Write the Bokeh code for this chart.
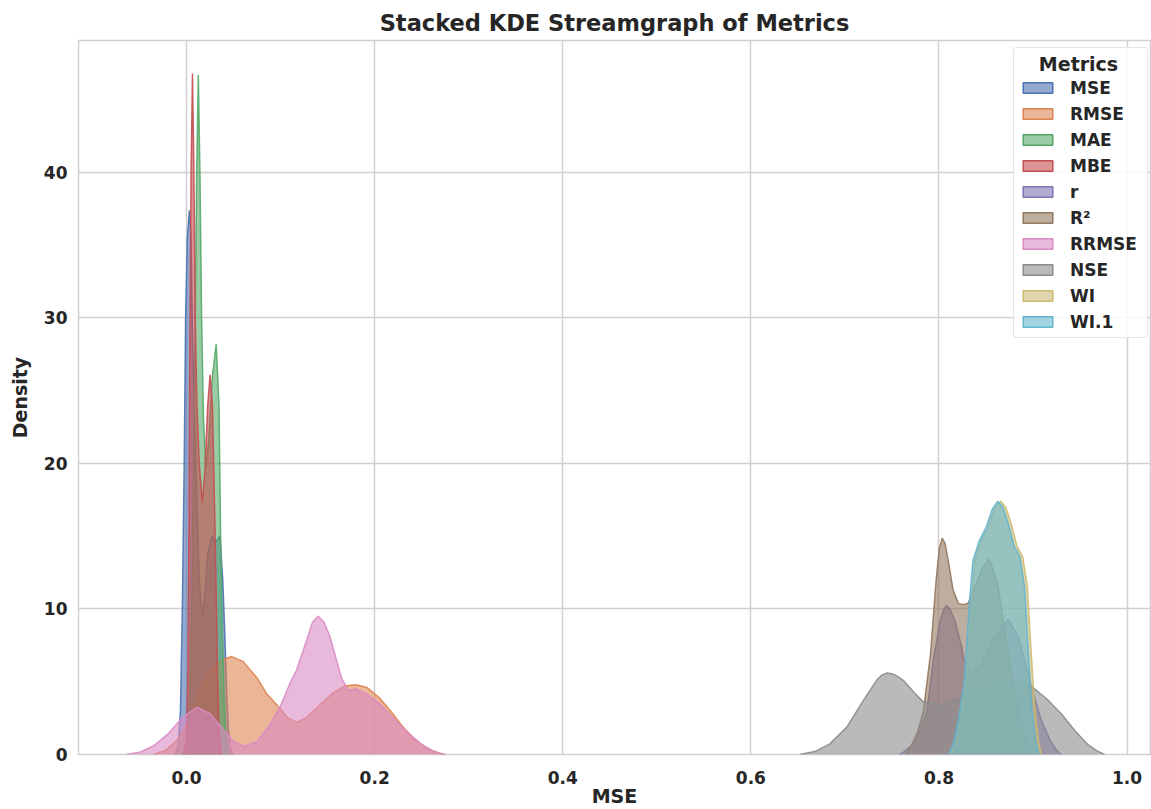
from bokeh.plotting import figure
from bokeh.models import Range1d, Legend, LegendItem, FixedTicker, ColumnDataSource
from bokeh.embed import file_html
from bokeh.resources import INLINE

# ---- data (x value, density) ----
metrics = ["MSE", "RMSE", "MAE", "MBE", "r", "R\u00b2", "RRMSE", "NSE", "WI", "WI.1"]
colors = ["#4C72B0", "#DD8452", "#55A868", "#C44E52", "#8172B3",
          "#937860", "#DA8BC3", "#8C8C8C", "#CCB974", "#64B5CD"]

mse_x = [-0.0125, -0.009, -0.0065, -0.0045, -0.0025, -0.001, 0.0008, 0.003, 0.0048, 0.006, 0.008, 0.0107,
         0.0135, 0.0167, 0.0195, 0.0225, 0.0267, 0.031, 0.0355, 0.0385, 0.0408, 0.0428, 0.0444, 0.0465, 0.049]
mse_y = [0, 0.5, 3, 10, 20, 30, 35.5, 37.4, 35.5, 30, 24, 18,
         12, 9.4, 11, 13.8, 15, 14.6, 15, 12, 8, 4, 1.8, 0.4, 0]

rmse_x = [-0.035, -0.022, -0.01, 0.0, 0.014, 0.025, 0.037, 0.048, 0.06, 0.0745, 0.085, 0.092, 0.099, 0.108,
          0.117, 0.127, 0.14, 0.155, 0.168, 0.18, 0.192, 0.205, 0.218, 0.23, 0.243, 0.256, 0.27, 0.275]
rmse_y = [0, 0.3, 1.0, 2.0, 4.4, 5.8, 6.5, 6.73, 6.4, 5.3, 4.2, 3.7, 3.2, 2.5,
          2.22, 2.5, 3.3, 4.2, 4.7, 4.8, 4.6, 3.9, 2.9, 1.9, 1.0, 0.4, 0.05, 0]

mae_x = [-0.004, 0.0, 0.003, 0.0055, 0.0075, 0.0092, 0.0108, 0.0125, 0.0142, 0.016, 0.018, 0.0205,
         0.0235, 0.0275, 0.0315, 0.0345, 0.0362, 0.0378, 0.0398, 0.0418, 0.0445]
mae_y = [0, 0.5, 3, 10, 20, 30, 40, 46.7, 40, 30, 23, 19.7,
         21.5, 26, 28.2, 24, 15, 9, 4, 1.2, 0]

mbe_x = [-0.003, 0.0, 0.0015, 0.0025, 0.0035, 0.0048, 0.0063, 0.0078, 0.0092, 0.011, 0.0135, 0.0167,
         0.0195, 0.0225, 0.025, 0.0275, 0.0298, 0.0315, 0.033, 0.0345, 0.037]
mbe_y = [0, 1, 6, 15, 28, 40, 46.8, 40, 30, 24, 20, 17.3,
         19.5, 24, 26.1, 24, 17, 11, 5, 1.5, 0]

r_x = [0.758, 0.7623, 0.7733, 0.787, 0.794, 0.8013, 0.8045, 0.8081, 0.812, 0.817, 0.8241, 0.8265, 0.835,
       0.845, 0.858, 0.8736, 0.885, 0.897, 0.908, 0.918, 0.925, 0.93]
r_y = [0, 0.16, 0.75, 2.8, 6.5, 9.2, 9.9, 10.24, 9.95, 9.2, 7.4, 6.5, 5.5,
       6.2, 8.0, 9.3, 8.0, 5.0, 2.5, 1.0, 0.3, 0]

r2_x = [0.765, 0.7697, 0.777, 0.7835, 0.791, 0.797, 0.8005, 0.8034, 0.8065, 0.8099, 0.815, 0.8208, 0.8265,
        0.831, 0.838, 0.846, 0.8535, 0.8625, 0.87, 0.878, 0.886, 0.893, 0.9]
r2_y = [0, 0.5, 1.5, 3.0, 6.9, 12.0, 14.2, 14.87, 14.5, 13.3, 11.3, 10.36, 10.3,
        10.4, 11.5, 12.8, 13.45, 11.7, 8.5, 5.0, 2.2, 0.7, 0]

rrmse_x = [-0.064, -0.05, -0.035, -0.02, -0.005, 0.011, 0.025, 0.038, 0.05, 0.062, 0.075, 0.088, 0.099,
           0.11, 0.117, 0.128, 0.134, 0.14, 0.146, 0.152, 0.158, 0.165, 0.172, 0.18, 0.19, 0.205, 0.22,
           0.235, 0.25, 0.262, 0.274]
rrmse_y = [0, 0.15, 0.6, 1.4, 2.5, 3.25, 2.8, 1.8, 0.9, 0.55, 0.9, 2.0, 3.2,
           4.9, 5.8, 7.9, 9.1, 9.5, 9.1, 8.2, 6.8, 5.2, 4.4, 4.5, 4.2, 3.5, 2.5,
           1.5, 0.7, 0.25, 0]

nse_x = [0.652, 0.668, 0.684, 0.702, 0.7195, 0.7337, 0.739, 0.745, 0.75, 0.755, 0.762, 0.773, 0.7835,
         0.8013, 0.826, 0.85, 0.87, 0.885, 0.9, 0.915, 0.93, 0.945, 0.958, 0.968, 0.976]
nse_y = [0, 0.2, 0.73, 1.88, 3.7, 5.1, 5.45, 5.6, 5.55, 5.4, 5.1, 4.3, 3.6,
         3.44, 3.94, 4.5, 5.0, 5.0, 4.6, 3.8, 2.8, 1.6, 0.7, 0.25, 0]

wi_x = [0.812, 0.818, 0.823, 0.829, 0.834, 0.838, 0.845, 0.852, 0.859, 0.8655, 0.871, 0.877, 0.883,
        0.889, 0.894, 0.898, 0.902, 0.906, 0.909]
wi_y = [0, 0.8, 2.5, 5.1, 10.1, 13.3, 14.7, 15.6, 16.9, 17.4, 17.0, 15.8, 14.3,
        13.6, 11.5, 7.0, 3.0, 0.8, 0]

wi1_x = [0.81, 0.8155, 0.821, 0.827, 0.832, 0.836, 0.843, 0.85, 0.857, 0.8624, 0.868, 0.874, 0.88,
         0.886, 0.891, 0.895, 0.899, 0.903, 0.906]
wi1_y = [0, 0.8, 2.5, 5.1, 10.1, 13.3, 14.7, 15.6, 16.9, 17.4, 17.0, 15.8, 14.3,
         13.6, 11.5, 7.0, 3.0, 0.8, 0]

curves = [(mse_x, mse_y), (rmse_x, rmse_y), (mae_x, mae_y), (mbe_x, mbe_y), (r_x, r_y),
          (r2_x, r2_y), (rrmse_x, rrmse_y), (nse_x, nse_y), (wi_x, wi_y), (wi1_x, wi1_y)]

x_ticks = [0.0, 0.2, 0.4, 0.6, 0.8, 1.0]
y_ticks = [0, 10, 20, 30, 40]

TEXT = "#262626"
GRID = "#d0d0d0"
FONT = "DejaVu Sans"
FILL_ALPHA = 0.6

p = figure(width=1151, height=809, output_backend="svg", toolbar_location=None,
           x_range=Range1d(-0.1149, 1.0249), y_range=Range1d(0, 49.07),
           min_border_left=78, min_border_right=1, min_border_top=40, min_border_bottom=55)

p.title.text = "Stacked KDE Streamgraph of Metrics"
p.title.text_font = FONT
p.title.text_font_size = "22.5px"
p.title.text_font_style = "bold"
p.title.text_color = TEXT
p.title.align = "center"

p.outline_line_color = GRID
p.outline_line_width = 1.5
p.background_fill_color = "white"
p.border_fill_color = "white"

for ax in (p.xaxis[0], p.yaxis[0]):
    ax.axis_line_color = None
    ax.major_tick_line_color = None
    ax.minor_tick_line_color = None
    ax.major_label_text_font = FONT
    ax.major_label_text_font_style = "bold"
    ax.major_label_text_font_size = "17px"
    ax.major_label_text_color = TEXT
    ax.axis_label_text_font = FONT
    ax.axis_label_text_font_style = "bold"
    ax.axis_label_text_font_size = "19px"
    ax.axis_label_text_color = TEXT

p.xaxis[0].ticker = FixedTicker(ticks=x_ticks)
p.yaxis[0].ticker = FixedTicker(ticks=y_ticks)
p.xaxis[0].major_label_overrides = {t: f"{t:.1f}" for t in x_ticks}
p.xaxis.axis_label = "MSE"
p.yaxis.axis_label = "Density"
p.xaxis.major_label_standoff = 10
p.yaxis.major_label_standoff = 5
p.xaxis.axis_label_standoff = -2
p.yaxis.axis_label_standoff = 10

p.xgrid.grid_line_color = GRID
p.ygrid.grid_line_color = GRID
p.xgrid.grid_line_width = 1.5
p.ygrid.grid_line_width = 1.5

for (xs, ys), c in zip(curves, colors):
    p.varea(x=xs, y1=[0] * len(ys), y2=ys, fill_color=c, fill_alpha=FILL_ALPHA)
    p.line(x=xs, y=ys, line_color=c, line_width=1.5, line_alpha=0.9)

nan = float("nan")
items = []
for name, c in zip(metrics, colors):
    src = ColumnDataSource(data=dict(left=[nan], right=[nan], top=[nan], bottom=[nan]))
    r = p.quad(left="left", right="right", top="top", bottom="bottom", source=src,
               fill_color=c, fill_alpha=FILL_ALPHA, line_color=c, line_width=1.5)
    items.append(LegendItem(label=name, renderers=[r]))

legend = Legend(items=items, location=(935, 416), title="\u00a0\u00a0\u00a0Metrics")
legend.title_text_font = FONT
legend.title_text_font_style = "bold"
legend.title_text_font_size = "19px"
legend.title_text_color = TEXT
legend.title_standoff = 2
legend.label_text_font = FONT
legend.label_text_font_style = "bold"
legend.label_text_font_size = "17px"
legend.label_text_color = TEXT
legend.glyph_width = 37
legend.glyph_height = 13
legend.label_height = 21
legend.label_width = 72
legend.label_standoff = 14
legend.spacing = 5
legend.padding = 5
legend.margin = 0
legend.border_line_color = "#cccccc"
legend.border_line_width = 1
legend.border_radius = 4
legend.background_fill_alpha = 0.85
p.add_layout(legend)

open("out.html", "w").write(file_html(p, INLINE))
